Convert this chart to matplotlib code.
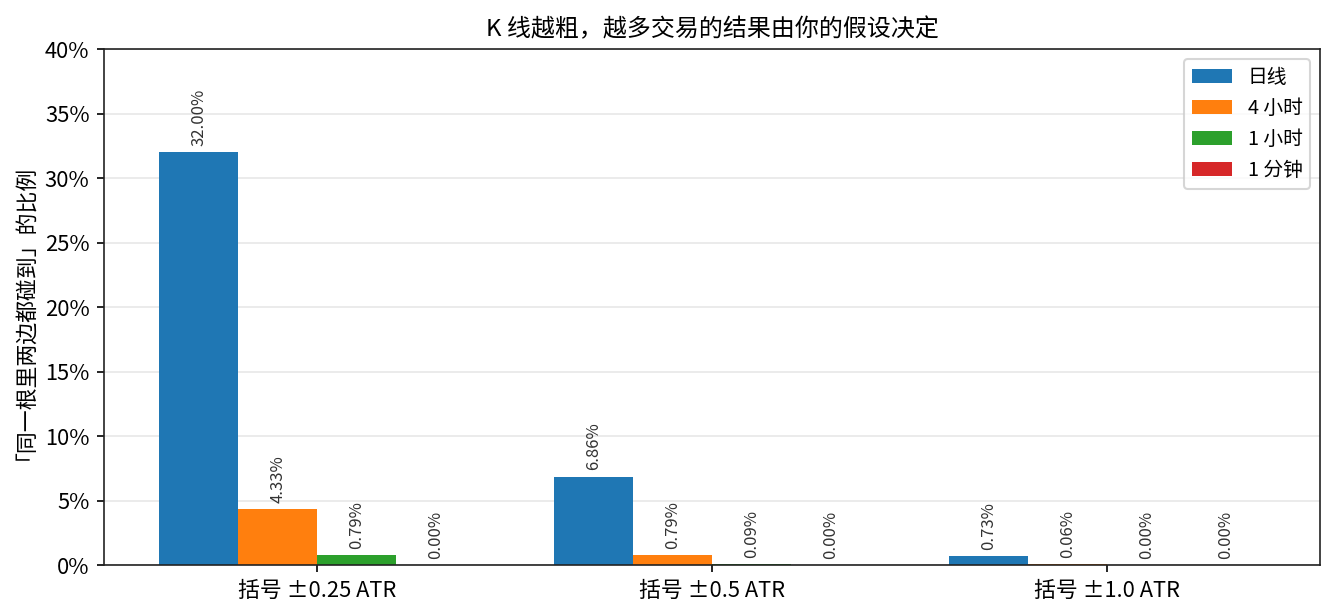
import matplotlib
matplotlib.use("Agg")
import matplotlib.pyplot as plt
import numpy as np

plt.rcParams['font.family'] = ['Noto Sans CJK SC', 'DejaVu Sans']
plt.rcParams['axes.unicode_minus'] = False

# data (percent)
categories = ['括号 ±0.25 ATR', '括号 ±0.5 ATR', '括号 ±1.0 ATR']
series_names = ['日线', '4 小时', '1 小时', '1 分钟']
daily = [32.00, 6.86, 0.73]
hour4 = [4.33, 0.79, 0.06]
hour1 = [0.79, 0.09, 0.00]
minute1 = [0.00, 0.00, 0.00]
colors = ['#1f77b4', '#ff7f0e', '#2ca02c', '#d62728']

all_series = [daily, hour4, hour1, minute1]

fig, ax = plt.subplots(figsize=(8.9, 4.1), dpi=150)
x = np.arange(len(categories))
width = 0.2

for i, (vals, name, c) in enumerate(zip(all_series, series_names, colors)):
    bars = ax.bar(x + (i - 1.5) * width, vals, width, label=name, color=c)
    for b, v in zip(bars, vals):
        ax.annotate(f'{v:.2f}%', (b.get_x() + b.get_width() / 2, b.get_height()),
                    xytext=(0, 3), textcoords='offset points',
                    ha='center', va='bottom', rotation=90, fontsize=8, color='#333333')

ax.set_xticks(x)
ax.set_xticklabels(categories, fontsize=10.5)
ax.tick_params(axis='y', labelsize=10.5)
ax.set_ylim(0, 40)
ax.yaxis.set_major_formatter(matplotlib.ticker.FuncFormatter(lambda v, p: f'{v:.0f}%'))
ax.set_ylabel('「同一根里两边都碰到」的比例', fontsize=10.5, labelpad=9)
ax.set_title('K 线越粗，越多交易的结果由你的假设决定', fontsize=11.5)
ax.grid(axis='y', alpha=0.3)
ax.set_axisbelow(True)
ax.legend(loc='upper right', fontsize=9.5)

for s in ax.spines.values():
    s.set_color('#222222')

fig.subplots_adjust(left=0.078, right=0.989, top=0.920, bottom=0.081)
fig.savefig('out.png', dpi=150)
